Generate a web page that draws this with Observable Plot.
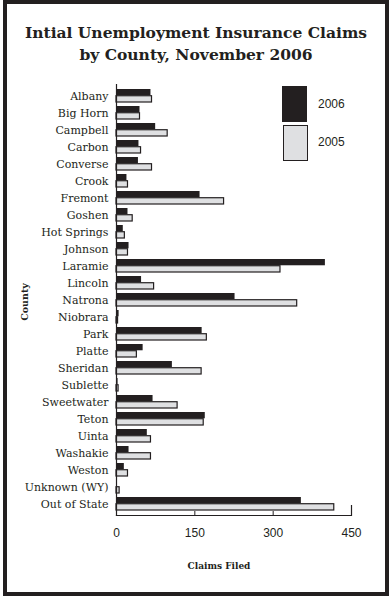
<!DOCTYPE html>
<html><head><meta charset="utf-8">
<script src="https://cdn.jsdelivr.net/npm/d3@7"></script>
<script src="https://cdn.jsdelivr.net/npm/@observablehq/plot@0.6"></script>
<style>
body{margin:0;background:#fff;}
#wrap{position:relative;width:392px;height:600px;overflow:hidden;background:#fff;}
#frame{position:absolute;left:3px;top:0px;width:386px;height:596px;box-sizing:border-box;border:4.5px solid #231f20;pointer-events:none;}
#title{position:absolute;left:0;top:22px;width:392px;text-align:center;font-family:"DejaVu Serif",serif;font-weight:bold;font-size:15.5px;line-height:22px;color:#231f20;}
#chart{position:absolute;left:0;top:0;}
.lg{position:absolute;font-family:"Liberation Sans",Arial,sans-serif;font-size:12px;color:#231f20;}
.sw{position:absolute;box-sizing:border-box;}
#xlab{position:absolute;left:150px;width:138px;top:561px;text-align:center;font-family:"DejaVu Serif",serif;font-weight:bold;font-size:9px;color:#231f20;}
#ylab{position:absolute;left:24px;top:302px;transform:translate(-50%,-50%) rotate(-90deg);font-family:"DejaVu Serif",serif;font-weight:bold;font-size:9.5px;color:#231f20;white-space:nowrap;}
</style></head><body>
<div id="wrap">
  <div id="chart"></div>
  <div id="title">Intial Unemployment Insurance Claims<br>by County, November 2006</div>
  <div class="sw" style="left:282px;top:86px;width:25px;height:36px;background:#231f20;"></div>
  <div class="sw" style="left:283px;top:125px;width:24.5px;height:36px;background:#dfe0e2;border:1.2px solid #231f20;"></div>
  <div class="lg" style="left:318px;top:97px;">2006</div>
  <div class="lg" style="left:318px;top:135px;">2005</div>
  <div id="xlab">Claims Filed</div>
  <div id="ylab">County</div>
  <div id="frame"></div>
</div>
<script>
const counties = ["Albany","Big Horn","Campbell","Carbon","Converse","Crook","Fremont","Goshen","Hot Springs","Johnson","Laramie","Lincoln","Natrona","Niobrara","Park","Platte","Sheridan","Sublette","Sweetwater","Teton","Uinta","Washakie","Weston","Unknown (WY)","Out of State"];
const claims2006 = [66,45,75,43,42,20,160,22,13,24,400,48,227,5,164,51,107,3,70,170,59,24,15,1,354];
const claims2005 = [68,45,98,47,68,22,206,31,16,22,314,72,346,3,173,39,163,4,117,167,66,66,22,6,417];
const xTicks = [0,150,300,450];

const d2006 = counties.map((c,i)=>({county:c, value:claims2006[i]}));
const d2005 = counties.map((c,i)=>({county:c, value:claims2005[i]}));

const H = 600, mt = 84, mb = 85;
const innerH = H - mt - mb;
const step = innerH / (counties.length - 0.22 + 0.22);
const bw = step * (1 - 0.22);
const half = bw / 2;

const ink = "#231f20";
const chart = Plot.plot({
  width: 392, height: H,
  marginTop: mt, marginBottom: mb, marginLeft: 116, marginRight: 41,
  style: {background: "transparent", color: ink},
  x: {domain: [0,450], axis: null, label: null},
  y: {domain: counties, paddingInner: 0.22, paddingOuter: 0.11, axis: null, label: null},
  marks: [
    Plot.barX(d2006, {x: "value", y: "county", fill: ink, insetBottom: half}),
    Plot.barX(d2005, {x: "value", y: "county", fill: "#dfe0e2", stroke: ink, strokeWidth: 1.2, insetTop: half}),
    Plot.axisY({tickSize: 0, tickPadding: 8, fontFamily: "DejaVu Serif", fontSize: 11, fill: ink, label: null}),
    Plot.axisX({ticks: xTicks, tickSize: 0, tickPadding: 13, fontFamily: "Liberation Sans", fontSize: 12, fill: ink, label: null}),
    Plot.ruleX([150,300], {stroke: ink, insetTop: innerH - 4}),
    Plot.ruleX([450], {stroke: ink, insetTop: innerH - 10, strokeWidth: 1.2}),
    Plot.frame({anchor: "left", stroke: ink, strokeWidth: 1.2}),
    Plot.frame({anchor: "bottom", stroke: ink, strokeWidth: 1.2})
  ]
});
document.getElementById("chart").appendChild(chart);
</script>
</body></html>
